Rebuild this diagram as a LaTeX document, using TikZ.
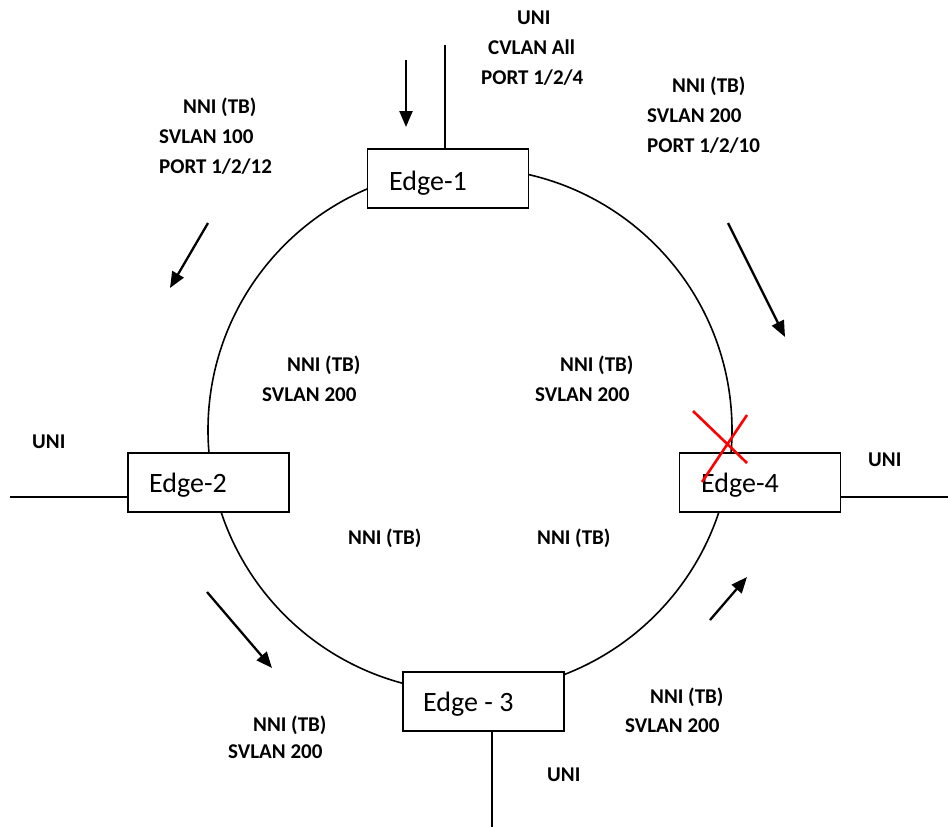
\documentclass[tikz,border=0pt]{standalone}
\usepackage{fontspec}
\setmainfont{Carlito}
\usetikzlibrary{arrows.meta}
\begin{document}
\begin{tikzpicture}[x=1pt,y=-1pt,
  lbl/.style={anchor=base west,inner sep=0pt,font=\fontsize{21}{25}\selectfont\bfseries},
  edgelbl/.style={anchor=base west,inner sep=0pt,font=\fontsize{28}{33}\selectfont},
  box/.style={draw,line width=1.7pt,fill=white,rectangle,inner sep=0pt,minimum width=161pt,minimum height=59pt},
  wire/.style={line width=1.6pt},
  flow/.style={line width=2.3pt,-{Triangle[length=16pt,width=13pt]}},
  cross/.style={draw=red,line width=2.6pt}]
\fill[white] (0,0) rectangle (948,827);
\useasboundingbox (0,0) rectangle (948,827);

% ring
\node[circle,draw,line width=1.6pt,minimum size=524pt,inner sep=0pt] (ring) at (470,430) {};

% boxes
\node[box] (e1) at (448,178.5) {};
\node[box] (e2) at (208.5,482.5) {};
\node[box] (e3) at (483.5,701.5) {};
\node[box] (e4) at (760,482.5) {};

\node[edgelbl] (t1) at (389,190) {Edge-1};
\node[edgelbl] (t2) at (149,492) {Edge-2};
\node[edgelbl] (t3) at (423,711) {Edge - 3};
\node[edgelbl] (t4) at (701,492) {Edge-4};

% UNI wires
\coordinate (u1) at (445,45);
\coordinate (u2) at (10,497);
\coordinate (u3) at (492,827);
\coordinate (u4) at (948,497);
\draw[wire] (u1) -- (u1 |- e1.north);
\draw[wire] (u2) -- (u2 -| e2.west);
\draw[wire] (u3 |- e3.south) -- (u3);
\draw[wire] (u4 -| e4.east) -- (u4);

% flow arrows
\coordinate (a0s) at (406,60);   \coordinate (a0e) at (406,127);
\coordinate (a1s) at (208,223);  \coordinate (a1e) at (170,288);
\coordinate (a2s) at (728,223);  \coordinate (a2e) at (785,337);
\coordinate (a3s) at (207,592);  \coordinate (a3e) at (272,668);
\coordinate (a4s) at (710,620);  \coordinate (a4e) at (747,577);
\draw[flow] (a0s) -- (a0e);
\draw[flow] (a1s) -- (a1e);
\draw[flow] (a2s) -- (a2e);
\draw[flow] (a3s) -- (a3e);
\draw[flow] (a4s) -- (a4e);

% failure mark
\coordinate (x1) at (693,411); \coordinate (x2) at (747,463);
\coordinate (x3) at (747,415); \coordinate (x4) at (702,482);
\draw[cross] (x1) -- (x2);
\draw[cross] (x3) -- (x4);

% labels
\node[lbl] (l1) at (517,24) {UNI};
\node[lbl] (l2) at (488,54) {CVLAN All};
\node[lbl] (l3) at (481,84) {PORT 1/2/4};

\node[lbl] (l4) at (183,113) {NNI (TB)};
\node[lbl] (l5) at (159,143) {SVLAN 100};
\node[lbl] (l6) at (159,173) {PORT 1/2/12};

\node[lbl] (l7) at (672,92) {NNI (TB)};
\node[lbl] (l8) at (647,122) {SVLAN 200};
\node[lbl] (l9) at (647,152) {PORT 1/2/10};

\node[lbl] (l10) at (287,371) {NNI (TB)};
\node[lbl] (l11) at (262,401) {SVLAN 200};
\node[lbl] (l12) at (560,371) {NNI (TB)};
\node[lbl] (l13) at (535,401) {SVLAN 200};
\node[lbl] (l14) at (348,544) {NNI (TB)};
\node[lbl] (l15) at (537,544) {NNI (TB)};

\node[lbl] (l16) at (32,448) {UNI};
\node[lbl] (l17) at (868,466) {UNI};

\node[lbl] (l18) at (253,731) {NNI (TB)};
\node[lbl] (l19) at (228,758) {SVLAN 200};
\node[lbl] (l20) at (650,703) {NNI (TB)};
\node[lbl] (l21) at (625,732) {SVLAN 200};
\node[lbl] (l22) at (547,781) {UNI};
\end{tikzpicture}
\end{document}
